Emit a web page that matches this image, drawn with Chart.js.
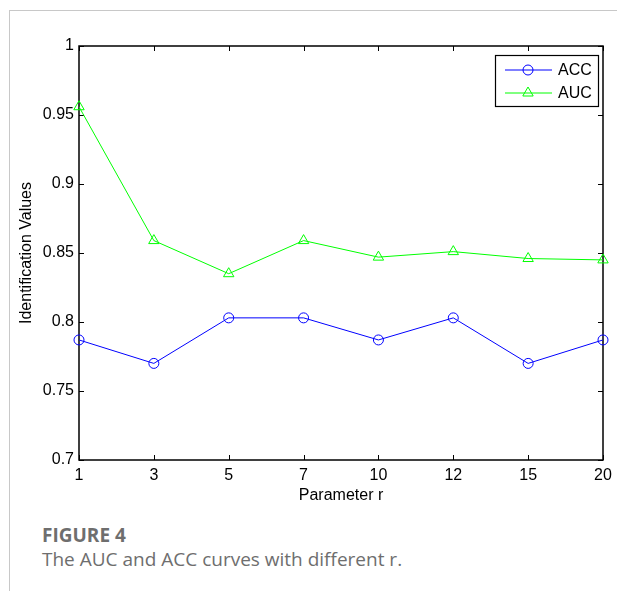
<!DOCTYPE html>
<html>
<head>
<meta charset="utf-8">
<script src="https://cdn.jsdelivr.net/npm/chart.js@4.4.0/dist/chart.umd.min.js"></script>
<style>
    html, body { margin: 0; padding: 0; background: #fff; }
    body { width: 617px; height: 591px; position: relative; overflow: hidden; }
    #frameTop { position: absolute; left: 9px; top: 10px; right: 0; border-top: 1px solid #c8c8c8; }
    #frameLeft { position: absolute; left: 9px; top: 10px; bottom: 0; border-left: 1px solid #c8c8c8; }
    #chartBox { position: absolute; left: 0; top: 0; width: 617px; height: 510px; }
    .caption { position: absolute; left: 42px; font-family: "Open Sans", sans-serif; font-size: 19px; line-height: 19px; color: #6e6e6e; white-space: nowrap; }
    #figNo { top: 526px; font-weight: bold; }
    #figText { top: 550px; }
</style>
</head>
<body>
<div id="frameTop"></div>
<div id="frameLeft"></div>
<div id="chartBox"><canvas id="aucChart" width="617" height="510"></canvas></div>
<div class="caption" id="figNo">FIGURE 4</div>
<div class="caption" id="figText">The AUC and ACC curves with different r.</div>
<script>
// values
const rLabels = ['1', '3', '5', '7', '10', '12', '15', '20'];
const accValues = [0.787, 0.770, 0.803, 0.803, 0.787, 0.803, 0.770, 0.787];
const aucValues = [0.956, 0.859, 0.835, 0.859, 0.847, 0.851, 0.846, 0.845];
const yTicks = [0.7, 0.75, 0.8, 0.85, 0.9, 0.95, 1];

const axisFont = { family: '"Liberation Sans", Arial, sans-serif', size: 16 };

// MATLAB style box with inward ticks on all four sides
const boxPlugin = {
    id: 'matlabBox',
    beforeDatasetsDraw(chart) {
        const { ctx, chartArea: a, scales } = chart;
        const tick = 5;
        ctx.save();
        ctx.strokeStyle = '#000';
        ctx.lineWidth = 1;
        ctx.beginPath();
        scales.x.ticks.forEach((t, i) => {
            const x = Math.round(scales.x.getPixelForTick(i)) + 0.5;
            ctx.moveTo(x, a.bottom); ctx.lineTo(x, a.bottom - tick);
            ctx.moveTo(x, a.top); ctx.lineTo(x, a.top + tick);
        });
        scales.y.ticks.forEach((t, i) => {
            const y = Math.round(scales.y.getPixelForTick(i)) + 0.5;
            ctx.moveTo(a.left, y); ctx.lineTo(a.left + tick, y);
            ctx.moveTo(a.right, y); ctx.lineTo(a.right - tick, y);
        });
        ctx.stroke();
        ctx.lineWidth = 1.5;
        ctx.strokeRect(a.left, a.top, a.right - a.left, a.bottom - a.top);
        ctx.restore();
    },
    afterDraw(chart) {
        // legend box in the upper right corner of the plot
        const { ctx, chartArea: a } = chart;
        const boxW = 103, boxH = 51;
        const bx = a.right - 5 - boxW, by = a.top + 9;
        ctx.save();
        ctx.fillStyle = '#fff';
        ctx.fillRect(bx, by, boxW, boxH);
        ctx.strokeStyle = '#000';
        ctx.lineWidth = 1.2;
        ctx.strokeRect(bx + 0.5, by + 0.5, boxW, boxH);
        chart.data.datasets.forEach((ds, i) => {
            const y = by + 15 + i * 23;
            ctx.strokeStyle = ds.borderColor;
            ctx.lineWidth = 1;
            ctx.beginPath();
            ctx.moveTo(bx + 10, y);
            ctx.lineTo(bx + 57, y);
            ctx.stroke();
            ctx.fillStyle = 'rgba(0,0,0,0)';
            Chart.helpers.drawPoint(ctx, {
                pointStyle: ds.pointStyle,
                radius: ds.pointRadius,
                borderWidth: 1,
                rotation: 0
            }, bx + 33, y);
            ctx.fillStyle = '#000';
            ctx.font = '16px "Liberation Sans", Arial, sans-serif';
            ctx.textBaseline = 'middle';
            ctx.textAlign = 'left';
            ctx.fillText(ds.label, bx + 63, y + 1);
        });
        ctx.restore();
    }
};

new Chart(document.getElementById('aucChart').getContext('2d'), {
    type: 'line',
    data: {
        labels: rLabels,
        datasets: [
            {
                label: 'ACC',
                data: accValues,
                borderColor: '#0000ff',
                borderWidth: 1,
                pointStyle: 'circle',
                pointRadius: 5,
                pointBorderWidth: 1,
                pointBackgroundColor: 'rgba(0,0,0,0)',
                pointBorderColor: '#0000ff',
                tension: 0,
                clip: false
            },
            {
                label: 'AUC',
                data: aucValues,
                borderColor: '#00ff00',
                borderWidth: 1,
                pointStyle: 'triangle',
                pointRadius: 6,
                pointBorderWidth: 1,
                pointBackgroundColor: 'rgba(0,0,0,0)',
                pointBorderColor: '#00ff00',
                tension: 0,
                clip: false
            }
        ]
    },
    options: {
        responsive: false,
        animation: false,
        devicePixelRatio: 1,
        layout: { padding: { left: 0, top: 46, right: 14, bottom: 5 } },
        plugins: {
            legend: { display: false },
            tooltip: { enabled: false }
        },
        scales: {
            x: {
                type: 'category',
                offset: false,
                grid: { display: false, drawTicks: false },
                border: { display: false },
                ticks: { padding: 6, font: axisFont, color: '#000', maxRotation: 0, autoSkip: false },
                title: {
                    display: true,
                    text: 'Parameter r',
                    font: axisFont,
                    color: '#000',
                    padding: { top: 3, bottom: 0 }
                },
                afterFit(scale) {
                    scale.height = 45;
                    scale.paddingLeft = 0;
                    scale.paddingRight = 0;
                }
            },
            y: {
                min: 0.7,
                max: 1,
                grid: { display: false, drawTicks: false },
                border: { display: false },
                afterBuildTicks(scale) {
                    scale.ticks = yTicks.map(v => ({ value: v }));
                },
                ticks: {
                    padding: 5,
                    font: axisFont,
                    color: '#000',
                    callback: v => String(Number(v.toFixed(2)))
                },
                title: {
                    display: true,
                    text: 'Identification Values',
                    font: axisFont,
                    color: '#000',
                    padding: { top: 17, bottom: 0 }
                },
                afterFit(scale) {
                    scale.width = 79;
                    scale.paddingTop = 0;
                    scale.paddingBottom = 0;
                }
            }
        }
    },
    plugins: [boxPlugin]
});
</script>
</body>
</html>
